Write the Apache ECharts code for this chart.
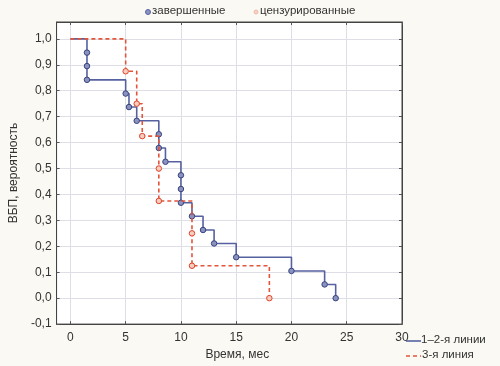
<!DOCTYPE html>
<html>
<head>
<meta charset="utf-8">
<script src="https://cdn.jsdelivr.net/npm/echarts@6/dist/echarts.min.js"></script>
<style>
  html, body { margin: 0; padding: 0; background: #fbf9f3; }
  #chart { width: 500px; height: 366px; }
</style>
</head>
<body>
<div id="chart"></div>
<script>
// 1-2-я линии (Kaplan-Meier)
const blueTime = [0, 1.5, 1.5, 1.5, 5, 5.3, 6, 8, 8, 8.6, 10, 10, 10, 11, 12, 13, 15, 20, 23, 24]
const blueSurv = [1, 0.947, 0.895, 0.842, 0.789, 0.737, 0.684, 0.632, 0.579, 0.526, 0.474, 0.421, 0.368, 0.316, 0.263, 0.211, 0.158, 0.105, 0.053, 0]
// 3-я линия
const redTime = [0, 5, 6, 6.5, 8, 8, 11, 11, 18]
const redSurv = [1, 0.875, 0.75, 0.625, 0.5, 0.375, 0.25, 0.125, 0]

const xTicks = [0, 5, 10, 15, 20, 25, 30]
const yTicks = [-0.1, 0, 0.1, 0.2, 0.3, 0.4, 0.5, 0.6, 0.7, 0.8, 0.9, 1.0]

const seriesNames = ['1–2-я линии', '3-я линия']
const markerNames = ['завершенные', 'цензурированные']

function toPoints(times, surv) {
    return times.map((t, i) => {
        let p = { value: [t, surv[i]] }
        if (i === 0) p.symbol = 'none'
        return p
    })
}

const font = 'Liberation Sans, Arial, sans-serif'
const blue = '#5561a0'
const red = '#e2553a'
const xMin = -1.25, xMax = 30, yMin = -0.1, yMax = 1.065

let myChart = echarts.init(document.getElementById('chart'))
let option = {
    backgroundColor: '#fbf9f3',
    animation: false,
    grid: {
        left: 48, right: 98, top: 22, bottom: 39,
        show: true,
        backgroundColor: '#ffffff',
        borderColor: '#444',
        borderWidth: 1
    },
    xAxis: [{
        type: 'value',
        min: xMin,
        max: xMax,
        name: 'Время, мес',
        nameLocation: 'middle',
        nameGap: 22,
        nameTextStyle: { color: '#333', fontSize: 12, fontFamily: font, padding: [0, 0, 0, 16] },
        axisLine: { onZero: false, lineStyle: { color: '#444' } },
        axisTick: { inside: true, length: 3, customValues: xTicks, lineStyle: { color: '#555' } },
        axisLabel: { customValues: xTicks, color: '#333', fontSize: 12, fontFamily: font, margin: 8 },
        splitLine: { show: true, lineStyle: { color: '#dedfe6', width: 1 } }
    }, {
        // top edge ticks only
        type: 'value', position: 'top', min: xMin, max: xMax,
        axisLine: { onZero: false, lineStyle: { color: '#444' } },
        axisTick: { inside: true, length: 3, customValues: xTicks, lineStyle: { color: '#555' } },
        axisLabel: { show: false },
        splitLine: { show: false }
    }],
    yAxis: [{
        type: 'value',
        min: yMin,
        max: yMax,
        name: 'ВБП, вероятность',
        nameLocation: 'middle',
        nameGap: 31,
        nameTextStyle: { color: '#333', fontSize: 12, fontFamily: font },
        axisLine: { show: true, onZero: false, lineStyle: { color: '#444' } },
        axisTick: { show: true, inside: true, length: 3, customValues: yTicks, lineStyle: { color: '#555' } },
        axisLabel: {
            customValues: yTicks,
            color: '#333', fontSize: 12, fontFamily: font, margin: 5,
            formatter: function(value) {
                return value.toFixed(1).replace('.', ',')
            }
        },
        splitLine: { show: true, lineStyle: { color: '#dedfe6', width: 1 } }
    }, {
        // right edge ticks only
        type: 'value', position: 'right', min: yMin, max: yMax,
        axisLine: { show: true, onZero: false, lineStyle: { color: '#444' } },
        axisTick: { show: true, inside: true, length: 3, customValues: yTicks, lineStyle: { color: '#555' } },
        axisLabel: { show: false },
        splitLine: { show: false }
    }],
    series: [
        {
            name: seriesNames[0],
            type: 'line',
            step: 'end',
            data: toPoints(blueTime, blueSurv),
            symbol: 'circle',
            symbolSize: 5.5,
            lineStyle: { color: blue, width: 1.6 },
            itemStyle: { color: '#8a92bf', borderColor: '#39437e', borderWidth: 1 },
            z: 2
        },
        {
            name: seriesNames[1],
            type: 'line',
            step: 'end',
            data: toPoints(redTime, redSurv),
            symbol: 'circle',
            symbolSize: 5.5,
            lineStyle: { color: red, width: 1.6, type: [4, 3] },
            itemStyle: { color: '#f6cdbf', borderColor: '#e0442a', borderWidth: 1 },
            z: 3
        }
    ],
    graphic: [
        // top legend: markers
        { type: 'circle', shape: { cx: 148, cy: 12, r: 2.5 }, style: { fill: '#8a92bf', stroke: '#5a64a0', lineWidth: 1 } },
        { type: 'text', left: 152, top: 5, style: { text: markerNames[0], fill: '#333', font: '11.5px ' + font } },
        { type: 'circle', shape: { cx: 256, cy: 12, r: 2 }, style: { fill: '#f4d3c8', stroke: '#f0b8a8', lineWidth: 1 } },
        { type: 'text', left: 260, top: 5, style: { text: markerNames[1], fill: '#333', font: '11.5px ' + font } },
        // bottom-right legend: lines
        { type: 'line', shape: { x1: 406, y1: 341, x2: 421, y2: 341 }, style: { stroke: blue, lineWidth: 1.6 } },
        { type: 'text', left: 421, top: 334, style: { text: seriesNames[0], fill: '#333', font: '11.5px ' + font } },
        { type: 'line', shape: { x1: 406, y1: 356, x2: 421, y2: 356 }, style: { stroke: red, lineWidth: 1.6, lineDash: [4, 3] } },
        { type: 'text', left: 422, top: 349, style: { text: seriesNames[1], fill: '#333', font: '11.5px ' + font } }
    ]
}
myChart.setOption(option)
window.addEventListener('resize', function() {
    myChart.resize()
})
</script>
</body>
</html>
